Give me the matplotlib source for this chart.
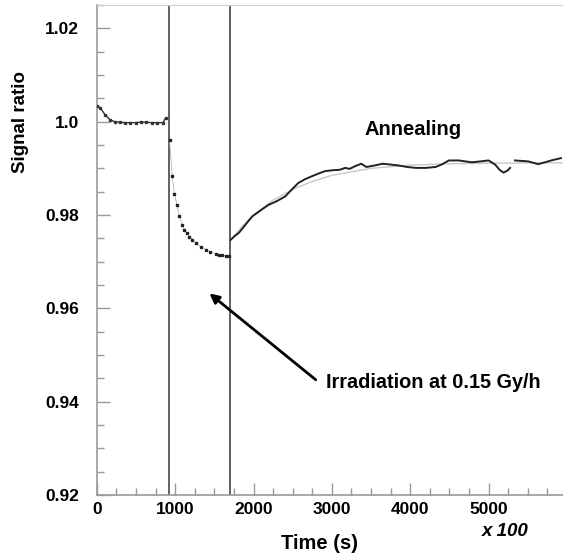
import numpy as np
import matplotlib
matplotlib.use("Agg")
import matplotlib.pyplot as plt

# values (time in units of 100 s)
pre_t = [0, 42, 105, 170, 230, 290, 360, 420, 500, 560, 630, 700, 770, 845, 877]
pre_y = [1.0034, 1.0030, 1.0015, 1.0004, 1.0000, 0.9999, 0.9998, 0.9998, 0.9998,
         0.9999, 0.9999, 0.9998, 0.9998, 0.9998, 1.0008]

irr_t = [928, 962, 991, 1021, 1055, 1089, 1118, 1150, 1181, 1220, 1266, 1330, 1392,
         1450, 1519, 1560, 1603, 1650, 1688]
irr_y = [0.9960, 0.9884, 0.9846, 0.9822, 0.9797, 0.9779, 0.9769, 0.9761, 0.9754,
         0.9747, 0.9740, 0.9732, 0.9726, 0.9721, 0.9717, 0.9715, 0.9714, 0.9713, 0.9712]

ann_t = [1709, 1760, 1814, 1900, 1983, 2090, 2194, 2300, 2405, 2490, 2574, 2660, 2743,
         2830, 2911, 3010, 3101, 3170, 3228, 3300, 3376, 3439, 3540, 3649, 3760, 3861,
         3960, 4072, 4200, 4325, 4410, 4494, 4620, 4700, 4789, 4900, 5000, 5085, 5140,
         5190, 5240, 5274, 5300, 5337, 5420, 5506, 5633, 5720, 5801, 5924]
ann_y = [0.9747, 0.9755, 0.9762, 0.9780, 0.9797, 0.9810, 0.9822, 0.9830, 0.9840,
         0.9855, 0.9869, 0.9877, 0.9883, 0.9889, 0.9894, 0.9896, 0.9897, 0.9901, 0.9899,
         0.9905, 0.9910, 0.9903, 0.9906, 0.9910, 0.9908, 0.9906, 0.9903, 0.9901, 0.9901,
         0.9903, 0.9909, 0.9917, 0.9917, 0.9915, 0.9913, 0.9915, 0.9917, 0.9908, 0.9897,
         0.9891, 0.9895, 0.9901, np.nan, 0.9917, 0.9916, 0.9915, 0.9909, 0.9913, 0.9917, 0.9922]

fit_t = [1700, 1850, 2000, 2250, 2500, 2750, 3000, 3500, 4000, 4500, 5000, 5950]
fit_y = [0.9745, 0.9775, 0.9800, 0.9832, 0.9855, 0.9872, 0.9885, 0.9900, 0.9907,
         0.9910, 0.9911, 0.9912]

irr_start, irr_stop = 920, 1700

plt.rcParams["font.family"] = ["Liberation Sans", "DejaVu Sans"]
plt.rcParams["font.weight"] = "bold"

fig = plt.figure(figsize=(5.63, 5.60), dpi=100)
ax = fig.add_axes([0.172, 0.116, 0.828, 0.875])

ax.plot(fit_t, fit_y, color="#c8c8c8", lw=1.0, zorder=1)
ax.plot(pre_t, pre_y, color="#333333", lw=1.0, marker="s", ms=1.4, zorder=3)
ax.plot(irr_t, irr_y, color="#aaaaaa", lw=0.5, marker="s", ms=1.6,
        mfc="#222222", mec="#222222", zorder=3)
ax.plot(ann_t, ann_y, color="#222222", lw=1.4, zorder=3)

ax.axvline(irr_start, color="#555555", lw=1.3, zorder=2)
ax.axvline(irr_stop, color="#555555", lw=1.3, zorder=2)

ax.set_xlim(0, 5950)
ax.set_ylim(0.92, 1.025)
ax.set_xticks([0, 1000, 2000, 3000, 4000, 5000])
ax.set_xticks(np.arange(0, 5951, 250), minor=True)
ax.set_yticks([0.92, 0.94, 0.96, 0.98, 1.0, 1.02])
ax.set_yticklabels(["0.92", "0.94", "0.96", "0.98", "1.0", "1.02"])
ax.set_yticks(np.arange(0.92, 1.0251, 0.005), minor=True)
ax.tick_params(which="both", direction="in", colors="#999999", labelcolor="black",
               labelsize=12.5)
ax.tick_params(which="major", length=9, width=1)
ax.tick_params(which="minor", length=5, width=1)
ax.tick_params(axis="y", pad=13)
ax.tick_params(axis="x", pad=5)

for s in ["left", "bottom"]:
    ax.spines[s].set_color("#999999")
    ax.spines[s].set_linewidth(1.2)
ax.spines["top"].set_color("#d0d0d0")
ax.spines["right"].set_visible(False)

ax.text(4040, 0.9983, "Annealing", fontsize=14.5, fontweight="bold", ha="center", va="center")
ax.annotate("", xy=(1437, 0.9632), xytext=(2794, 0.9447),
            arrowprops=dict(arrowstyle="-|>", color="black", lw=2, mutation_scale=14,
                            shrinkA=0, shrinkB=0))
ax.text(2921, 0.9442, "Irradiation at 0.15 Gy/h", fontsize=14.3, fontweight="bold",
        ha="left", va="center")

fig.text(0.036, 0.783, "Signal ratio", rotation=90, fontsize=13.5, fontweight="bold",
         ha="center", va="center")
fig.text(0.568, 0.030, "Time (s)", fontsize=14.5, fontweight="bold", ha="center", va="center")
fig.text(0.897, 0.050, "x 100", fontsize=13.5, fontweight="bold", style="italic",
         ha="center", va="center")

fig.savefig("out.png", dpi=100)
